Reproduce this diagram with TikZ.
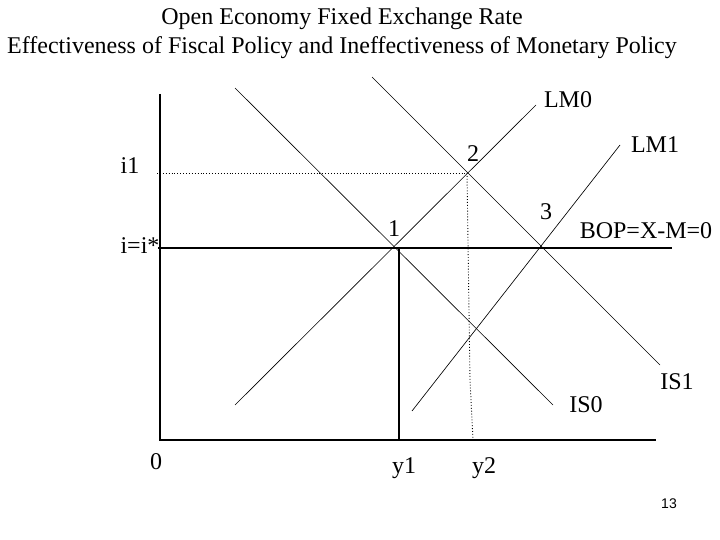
\documentclass[tikz,border=0pt]{standalone}
\usepackage{fontspec}
\setmainfont{Liberation Serif}
\newfontfamily\pagenumfont{Liberation Sans}
\begin{document}
\begin{tikzpicture}[x=1pt,y=-1pt,
  lbl/.style={inner sep=0pt,font=\fontsize{24}{28}\selectfont},
  axis/.style={line width=1.6pt},
  curve/.style={line width=0.65pt},
  guide/.style={line width=0.9pt,dotted}]
\useasboundingbox (0,0) rectangle (720,540);
% title
\node[lbl] (t1) at (342,19) {Open Economy Fixed Exchange Rate};
\node[lbl] (t2) at (342,48) {Effectiveness of Fiscal Policy and Ineffectiveness of Monetary Policy};
% axes
\coordinate (ytop) at (160,94);
\coordinate (orig) at (160,440);
\coordinate (xend) at (656,440);
\draw[axis] (ytop) -- (orig) -- (xend);
% curve end points
\coordinate (is0a) at (235,88);
\coordinate (is0b) at (553,405);
\coordinate (is1a) at (372,77);
\coordinate (is1b) at (660,365);
\coordinate (lm0a) at (235,405);
\coordinate (lm0b) at (536,105);
\coordinate (lm1a) at (412,411);
\coordinate (lm1b) at (620,145);
% intersections
\coordinate (p1) at (398,248);
\coordinate (p2) at (467,173);
\coordinate (p3) at (541,248);
\coordinate (bopa) at (158,248);
\coordinate (bopb) at (672,248);
\coordinate (i1a) at (157,173);
\coordinate (y1) at (399,440);
\coordinate (y1t) at (399,248);
\coordinate (y2m) at (470,380);
\coordinate (y2) at (473,440);
\draw[curve] (is0a) -- (is0b);
\draw[curve] (is1a) -- (is1b);
\draw[curve] (lm0a) -- (lm0b);
\draw[curve] (lm1a) -- (lm1b);
\draw[line width=1.3pt] (bopa) -- (bopb);
\draw[guide] (i1a) -- (p2);
\draw[guide] (p2) -- (y2m) -- (y2);
\draw[line width=1.1pt] (y1t) -- (y1);
% labels
\node[lbl] (li1) at (130,166) {i1};
\node[lbl] (lii) at (140,246) {i=i*};
\node[lbl] (l1) at (394,229) {1};
\node[lbl] (l2) at (473,154) {2};
\node[lbl] (l3) at (546,212) {3};
\node[lbl] (lbop) at (646,231) {BOP=X-M=0};
\node[lbl] (llm0) at (568,100) {LM0};
\node[lbl] (llm1) at (655,145) {LM1};
\node[lbl] (lis0) at (586,405) {IS0};
\node[lbl] (lis1) at (677,382) {IS1};
\node[lbl] (l0) at (156,462) {0};
\node[lbl] (ly1) at (404,468) {y1};
\node[lbl] (ly2) at (484,468) {y2};
\node[inner sep=0pt,font=\pagenumfont\fontsize{14}{16}\selectfont] (pg) at (669,504) {13};
\end{tikzpicture}
\end{document}
